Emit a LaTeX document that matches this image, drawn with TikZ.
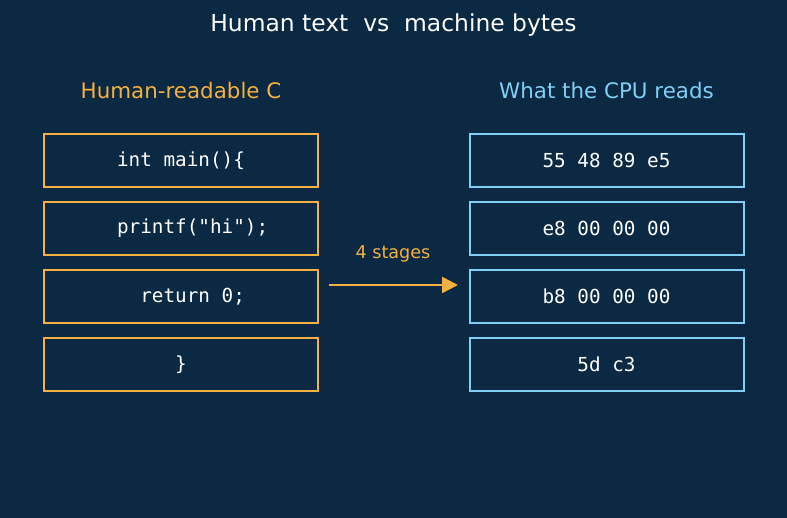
\documentclass[tikz,border=0pt]{standalone}
\usepackage{fontspec}
\setmainfont{DejaVu Sans}
\newfontfamily\codefont{DejaVu Sans Mono}
\usetikzlibrary{positioning,arrows.meta}

\definecolor{bgnavy}{HTML}{0B2942}
\definecolor{srcorange}{HTML}{F4B042}
\definecolor{cpublue}{HTML}{82CFF5}

\begin{document}
\begin{tikzpicture}[x=1pt,y=-1pt,
	codebox/.style={line width=2pt,minimum width=274pt,minimum height=53pt,inner sep=0pt,text=white,font=\codefont\fontsize{19.3}{22}\selectfont},
	srcbox/.style={codebox,draw=srcorange},
	cpubox/.style={codebox,draw=cpublue},
	head/.style={font=\fontsize{21.4}{25}\selectfont}]
\def\pad{\hphantom{xx}}

\fill[bgnavy](0,0) rectangle (787,518);
\useasboundingbox (0,0) rectangle (787,518);

\node[text=white,font=\fontsize{23.4}{28}\selectfont] (title) at (393.5,25) {Human text\ \ vs\ \ machine bytes};
\node[head,text=srcorange] (srchead) at (181,91) {Human-readable C};
\node[head,text=cpublue] (cpuhead) at (606.5,91) {What the CPU reads};

\foreach \i/\y/\t in {1/160.5/{int main()\{},2/228.5/{\pad printf("hi");},3/296.5/{\pad return 0;},4/364.5/{\}}}
	\node[srcbox] (src\i) at (181,\y) {\t};

\foreach \i/\y/\t in {1/160.5/{55 48 89 e5},2/228.5/{e8 00 00 00},3/296.5/{b8 00 00 00},4/364.5/{5d c3}}
	\node[cpubox] (cpu\i) at (606.5,\y) {\t};

\coordinate(from) at (329,285);
\coordinate(to) at (458,285);
\draw[srcorange,line width=2.5pt,-{Triangle[length=16pt,width=16pt]}](from)--(to);
\node[text=srcorange,font=\fontsize{17.6}{21}\selectfont] (stages) at (393,254) {4 stages};

\end{tikzpicture}
\end{document}
